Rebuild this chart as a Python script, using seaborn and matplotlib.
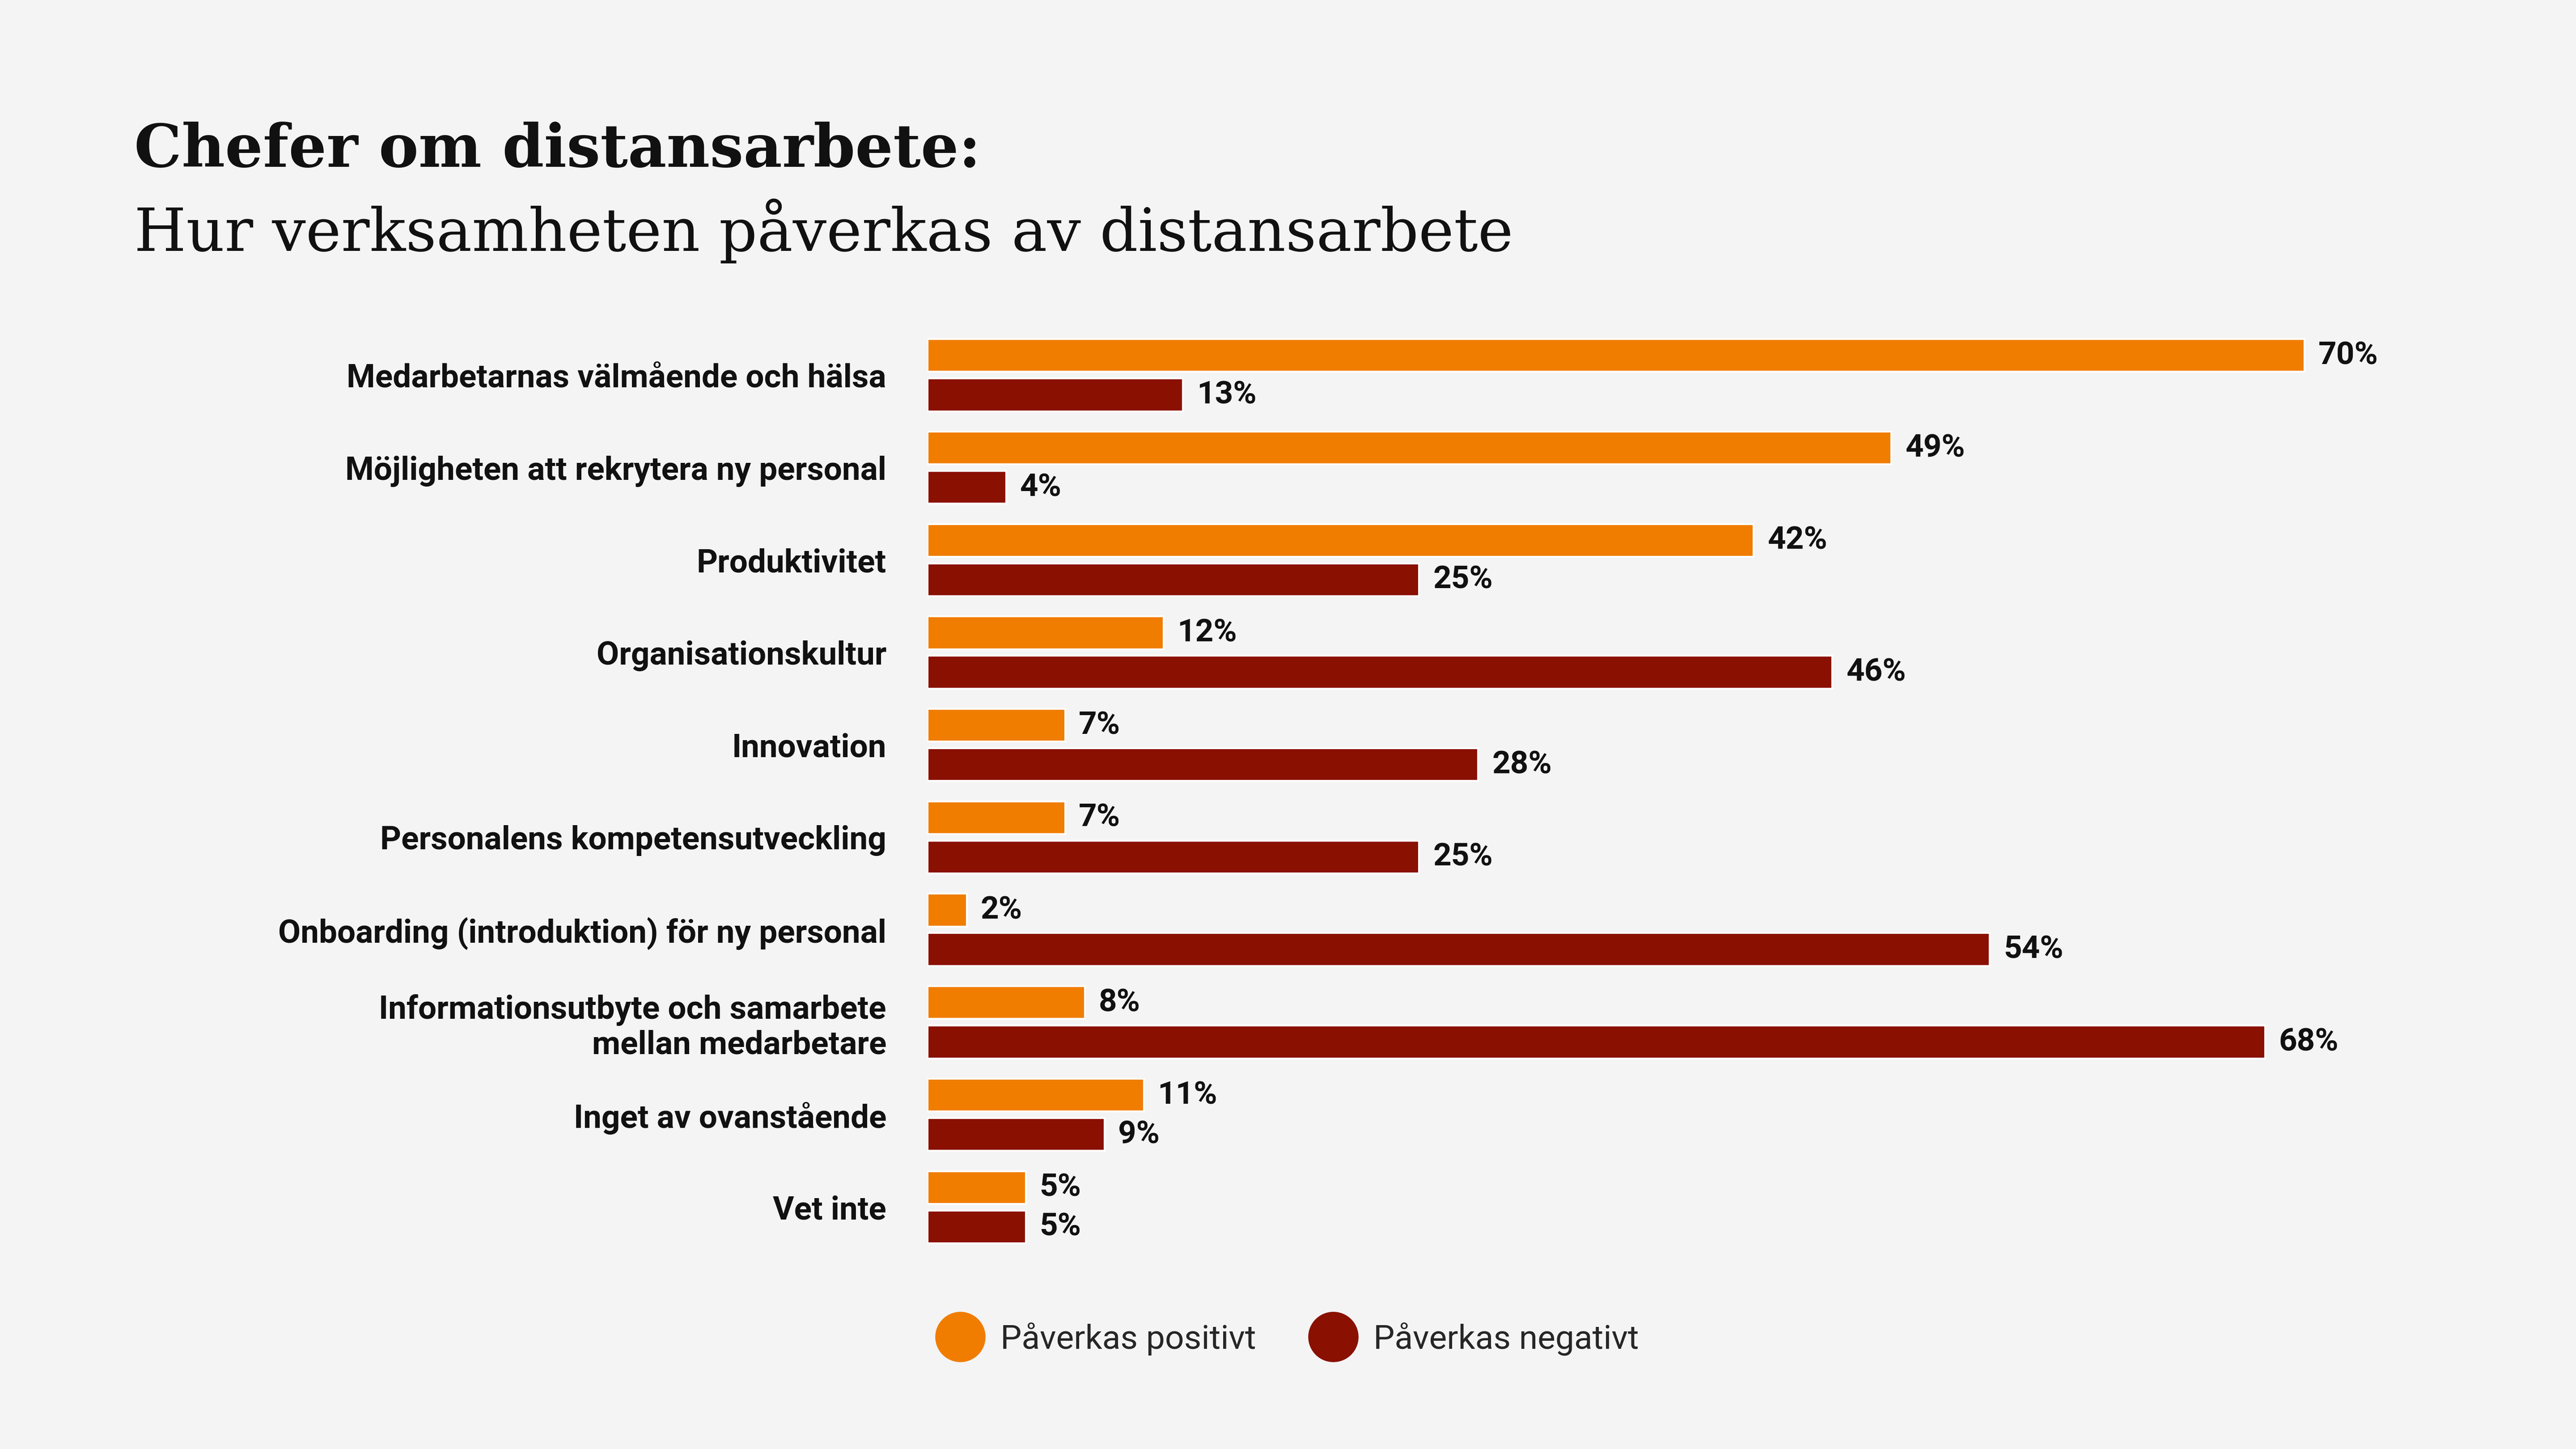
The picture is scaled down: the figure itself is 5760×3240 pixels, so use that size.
import matplotlib
matplotlib.use("Agg")
import matplotlib.pyplot as plt
import seaborn as sns
import pandas as pd
from matplotlib.lines import Line2D

categories = ["Medarbetarnas välmående och hälsa", "Möjligheten att rekrytera ny personal",
              "Produktivitet", "Organisationskultur", "Innovation",
              "Personalens kompetensutveckling", "Onboarding (introduktion) för ny personal",
              "Informationsutbyte och samarbete\nmellan medarbetare", "Inget av ovanstående", "Vet inte"]
positive = [70, 49, 42, 12, 7, 7, 2, 8, 11, 5]
negative = [13, 4, 25, 46, 28, 25, 54, 68, 9, 5]
series = ["Påverkas positivt", "Påverkas negativt"]
colors = ["#F07D00", "#8A1001"]
bg = "#F4F4F4"

sns.set_theme(style="white")
narrow = ["Roboto", "DejaVu Sans"]
plt.rcParams["font.family"] = narrow

df = pd.DataFrame({"cat": categories * 2,
                   "val": positive + negative,
                   "ser": [series[0]] * 10 + [series[1]] * 10})

fig = plt.figure(figsize=(19.2, 10.8), dpi=300, facecolor=bg)
ax = fig.add_axes([0.36, 0.135, 0.611, 0.638], facecolor=bg)
sns.barplot(data=df, y="cat", x="val", hue="ser", palette=colors, orient="h",
            width=0.8, gap=0.1, ax=ax, legend=False, saturation=1)
for i, cont in enumerate(ax.containers):
    off = -0.213 if i == 0 else 0.213
    for j, b in enumerate(cont):
        b.set_height(0.355)
        b.set_y(j + off - 0.355 / 2)
        w = b.get_width()
        ax.text(w + 0.7, j + off, f"{w:.0f}%", va="center", ha="left",
                fontsize=17, fontweight="bold", color="#111111")

ax.set_xlim(0, 80)
ax.set_ylim(9.5, -0.5)
ax.set_xlabel(""); ax.set_ylabel("")
ax.set_xticks([])
ax.tick_params(axis="y", length=0, pad=22)
for lab in ax.get_yticklabels():
    lab.set_fontsize(17.5); lab.set_fontweight("bold"); lab.set_color("#111111")
    lab.set_linespacing(1.15)
sns.despine(ax=ax, left=True, bottom=True)

fig.text(0.052, 0.885, "Chefer om distansarbete:", fontsize=32, fontweight="heavy",
         family=["DejaVu Serif"], color="#111111", va="baseline")
fig.text(0.052, 0.827, "Hur verksamheten påverkas av distansarbete", fontsize=32,
         family=["DejaVu Serif"], color="#111111", va="baseline")

handles = [Line2D([], [], marker="o", linestyle="", markersize=26, color=c) for c in colors]
fig.legend(handles, series, loc="center left", bbox_to_anchor=(0.348, 0.076), ncol=2,
           frameon=False, fontsize=18, handletextpad=0.2, columnspacing=1.3)

fig.savefig("out.png", dpi=300, facecolor=bg)
